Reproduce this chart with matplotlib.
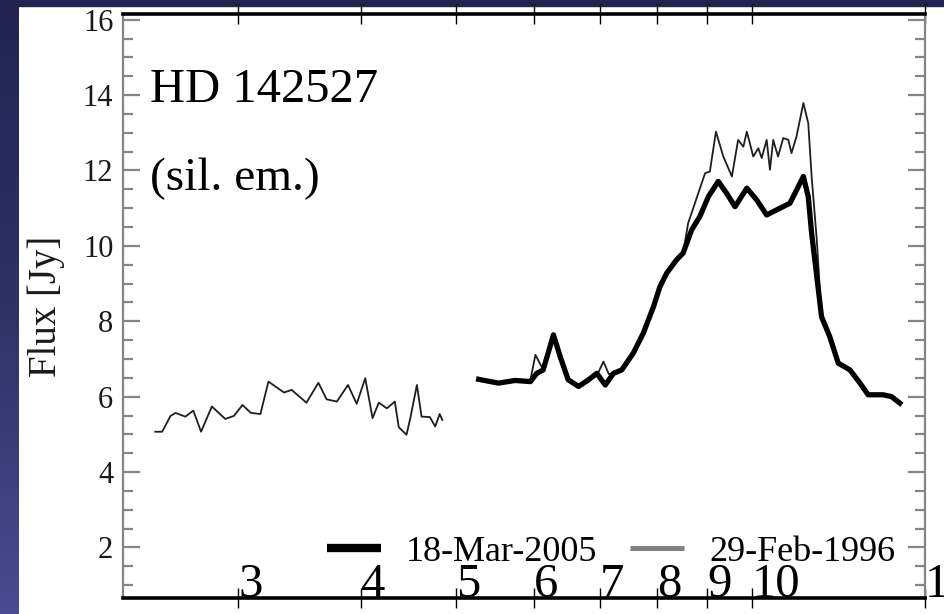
#!/usr/bin/env python3
from __future__ import annotations

import matplotlib

matplotlib.use("Agg")
import matplotlib.pyplot as plt
import numpy as np
from matplotlib.lines import Line2D
from matplotlib.patches import Rectangle
from matplotlib.ticker import FixedLocator, MultipleLocator, NullLocator


# 29-Feb-1996, short-wavelength part (micron, Jy)
wave_1996_a = [2.47, 2.51, 2.56, 2.59, 2.65, 2.70, 2.75, 2.82, 2.91, 2.97,
               3.03, 3.09, 3.16, 3.22, 3.34, 3.40, 3.52, 3.62, 3.69, 3.78,
               3.88, 3.96, 4.04, 4.11, 4.17, 4.25, 4.33, 4.37, 4.45, 4.49,
               4.56, 4.61, 4.70, 4.76, 4.81, 4.84]
flux_1996_a = [5.07, 5.07, 5.49, 5.57, 5.47, 5.63, 5.07, 5.74, 5.41, 5.49,
               5.78, 5.57, 5.54, 6.40, 6.11, 6.18, 5.84, 6.37, 5.93, 5.87,
               6.31, 5.81, 6.49, 5.43, 5.84, 5.69, 5.87, 5.19, 4.99, 5.43,
               6.31, 5.47, 5.46, 5.21, 5.54, 5.38]

# 29-Feb-1996, N-band part
wave_1996_b = [5.27, 5.52, 5.74, 5.95, 6.02, 6.13, 6.28, 6.38, 6.50, 6.66,
               6.82, 6.95, 7.06, 7.15, 7.23, 7.37, 7.57, 7.75, 7.94, 8.06,
               8.19, 8.38, 8.51, 8.61, 8.96, 9.06, 9.19, 9.35, 9.54, 9.68,
               9.80, 9.88, 10.03, 10.15, 10.23, 10.35, 10.43, 10.51, 10.63, 10.76,
               10.89, 10.97, 11.10, 11.28, 11.41, 11.50, 11.64, 11.77, 12.00, 12.24]
flux_1996_b = [6.46, 6.36, 6.43, 6.45, 7.11, 6.71, 7.64, 7.06, 6.45, 6.27,
               6.45, 6.55, 6.93, 6.60, 6.62, 6.71, 7.15, 7.68, 8.39, 8.92,
               9.28, 9.63, 9.81, 10.60, 11.93, 11.97, 13.03, 12.37, 11.84, 12.81,
               12.63, 13.03, 12.37, 12.59, 12.33, 12.81, 12.02, 12.81, 12.37, 12.86,
               12.81, 12.46, 12.90, 13.79, 13.25, 11.84, 10.16, 8.12, 7.59, 6.89]

# 18-Mar-2005
wave_2005 = [5.27, 5.52, 5.74, 5.95, 6.04, 6.13, 6.28, 6.38, 6.50, 6.66,
             6.82, 6.95, 7.09, 7.23, 7.37, 7.57, 7.75, 7.94, 8.06, 8.19,
             8.38, 8.51, 8.68, 8.85, 9.03, 9.24, 9.42, 9.61, 9.88, 10.11,
             10.35, 10.68, 10.93, 11.28, 11.41, 11.50, 11.64, 11.77, 12.00, 12.24,
             12.58, 12.88, 13.13, 13.60, 13.87, 14.14]
flux_2005 = [6.46, 6.36, 6.43, 6.40, 6.62, 6.71, 7.64, 7.06, 6.45, 6.27,
             6.45, 6.62, 6.31, 6.62, 6.71, 7.15, 7.68, 8.39, 8.92, 9.28,
             9.63, 9.81, 10.42, 10.78, 11.31, 11.71, 11.40, 11.04, 11.53, 11.22,
             10.82, 11.00, 11.13, 11.84, 11.30, 10.34, 9.19, 8.12, 7.59, 6.89,
             6.71, 6.36, 6.05, 6.05, 6.00, 5.83]

x_ticks = [3, 4, 5, 6, 7, 8, 9, 10, 15]
x_tick_labels = ["3", "4", "5", "6", "7", "8", "9", "10", "15"]
y_ticks = [2, 4, 6, 8, 10, 12, 14, 16]

TICK_GRAY = "#858585"
THIN = "#1e1e1e"


def _set_style() -> None:
    plt.rcParams.update(
        {
            "font.family": ["Liberation Serif", "DejaVu Serif"],
        }
    )


def _backdrop(fig) -> None:
    # blue slide frame around the scanned figure
    band = fig.add_axes([0, 0, 19 / 945, 1])
    grad = np.linspace(0, 1, 256).reshape(-1, 1)
    cmap = matplotlib.colors.LinearSegmentedColormap.from_list(
        "frame", ["#22244f", "#2f3266", "#4a4b90"]
    )
    band.imshow(grad, aspect="auto", cmap=cmap, origin="upper")
    band.set_axis_off()
    fig.add_artist(
        Rectangle((0, 1 - 6 / 614), 1, 6 / 614, transform=fig.transFigure,
                  color="#22244f", zorder=0)
    )


def main() -> None:
    _set_style()
    fig = plt.figure(figsize=(9.45, 6.14), dpi=100, facecolor="white")
    _backdrop(fig)

    ax = fig.add_axes([123 / 945, 16 / 614, 802 / 945, 584 / 614])
    ax.plot(wave_1996_a, flux_1996_a, color=THIN, lw=1.3, zorder=3)
    ax.plot(wave_1996_b, flux_1996_b, color=THIN, lw=1.3, zorder=3)
    ax.plot(wave_2005, flux_2005, color="black", lw=3.8, zorder=4,
            solid_joinstyle="round")

    ax.set_xscale("log")
    ax.set_xlim(2.29, 15.0)
    ax.set_ylim(0.66, 16.15)

    ax.xaxis.set_major_locator(FixedLocator(x_ticks))
    ax.xaxis.set_minor_locator(NullLocator())
    ax.set_xticklabels(x_tick_labels)
    ax.yaxis.set_major_locator(FixedLocator(y_ticks))
    ax.yaxis.set_minor_locator(MultipleLocator(0.5))

    ax.tick_params(axis="x", which="major", direction="inout", length=14,
                   width=1.0, color="black", top=True, bottom=True,
                   labelsize=35, pad=-8, labelcolor="black")
    for lab in ax.get_xticklabels():
        lab.set_verticalalignment("baseline")
        lab.set_horizontalalignment("left")

    ax.tick_params(axis="y", which="major", direction="in", length=12,
                   width=1.6, color=TICK_GRAY, left=True, right=True,
                   labelsize=22, pad=7, labelcolor="#1a1a1a")
    ax.tick_params(axis="y", which="minor", direction="in", length=7,
                   width=1.6, color=TICK_GRAY, left=True, right=True)

    for side in ("left", "right"):
        ax.spines[side].set_color(TICK_GRAY)
        ax.spines[side].set_linewidth(1.6)
    for side in ("top", "bottom"):
        ax.spines[side].set_color("black")
        ax.spines[side].set_linewidth(2.6)

    ax.set_ylabel("Flux [Jy]", fontsize=28, color="#1a1a1a")
    ax.yaxis.set_label_coords(-0.072, 0.5)

    ax.text(0.034, 0.849, "HD 142527", transform=ax.transAxes, fontsize=35,
            va="baseline", ha="left")
    ax.text(0.034, 0.699, "(sil. em.)", transform=ax.transAxes, fontsize=34,
            va="baseline", ha="left")

    handles = [
        Line2D([], [], color="black", lw=6.0, solid_capstyle="butt"),
        Line2D([], [], color="#808080", lw=3.6, solid_capstyle="butt"),
    ]
    ax.legend(handles, ["18-Mar-2005", "29-Feb-1996"], loc="lower left",
              bbox_to_anchor=(0.254, 0.05), ncol=2, frameon=False,
              fontsize=26, handlelength=1.5, handletextpad=0.7,
              columnspacing=0.9, borderpad=0, borderaxespad=0)

    fig.savefig("out.png", dpi=100, facecolor=fig.get_facecolor())
    plt.close(fig)


if __name__ == "__main__":
    main()
